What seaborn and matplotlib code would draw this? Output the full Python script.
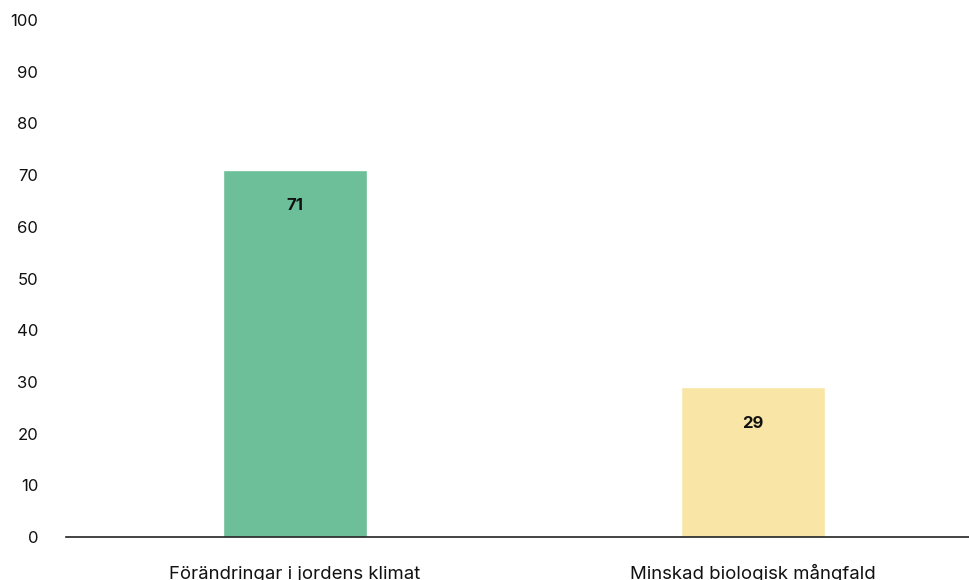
import matplotlib
matplotlib.use("Agg")
import matplotlib.pyplot as plt
import seaborn as sns
import pandas as pd

categories = ["Förändringar i jordens klimat", "Minskad biologisk mångfald"]
values = [71, 29]
colors = ["#6cbf99", "#f9e6a6"]
yticks = [0, 10, 20, 30, 40, 50, 60, 70, 80, 90, 100]

sns.set_theme(style="white")
plt.rcParams["font.family"] = ["Inter", "DejaVu Sans"]

df = pd.DataFrame({"kategori": categories, "andel": values})

fig = plt.figure(figsize=(9.69, 5.8), dpi=100)
ax = fig.add_axes([0.0681, 0.0741, 0.9453, 0.8914])

sns.barplot(data=df, x="kategori", y="andel", hue="kategori",
            palette=colors, width=0.314, saturation=1, legend=False, ax=ax)

ax.set_xlim(-0.5, 1.5)
ax.set_ylim(0, 100)
ax.set_yticks(yticks)
ax.set_xlabel("")
ax.set_ylabel("")

for s in ["top", "right", "left"]:
    ax.spines[s].set_visible(False)
ax.spines["bottom"].set_color("#222222")
ax.spines["bottom"].set_linewidth(1.2)

ax.tick_params(axis="y", length=0, pad=20, labelsize=12, labelcolor="#111111")
ax.tick_params(axis="x", length=0, pad=30.5, labelsize=13.4, labelcolor="#111111")
for lbl in ax.get_xticklabels():
    lbl.set_verticalalignment("baseline")

for i, v in enumerate(values):
    ax.annotate(str(v), xy=(i, v), xytext=(0, -36), textcoords="offset pixels",
                ha="center", va="center", fontsize=12, fontweight="bold",
                color="#111111")

fig.savefig("out.png", dpi=100)
